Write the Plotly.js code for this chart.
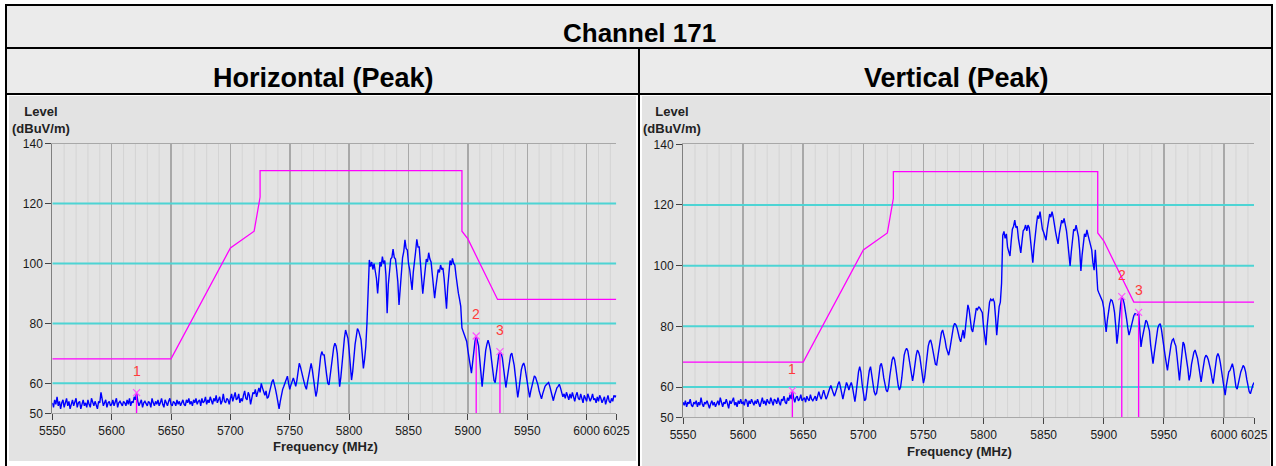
<!DOCTYPE html>
<html><head><meta charset="utf-8">
<script src="https://cdn.plot.ly/plotly-3.0.1.min.js"></script>
<style>html,body{margin:0;padding:0;background:#fff;overflow:hidden}#chart{width:1276px;height:466px}</style>
</head><body><div id="chart"></div>
<script>
// ---- data ----
const freqStart = 5550;   // MHz, first sample
const freqStep = 1;       // MHz between samples
// Horizontal (Peak) trace, 5550..6025 MHz
const levelH = [
53.5,52.0,54.5,53.0,55.5,52.5,54.0,51.5,53.5,54.5,
52.0,53.5,55.0,52.5,54.0,51.5,53.0,54.5,52.5,53.5,
55.0,52.0,53.5,54.0,51.5,53.0,54.5,52.5,53.5,52.0,
54.5,53.0,52.0,55.0,53.5,52.5,54.0,53.0,51.5,54.0,
53.5,57.0,54.0,52.5,53.5,54.5,52.0,53.5,54.0,52.5,
53.0,54.5,52.5,53.5,55.0,52.0,53.5,54.0,53.0,52.5,
54.0,53.5,52.5,54.5,53.0,55.0,52.5,54.0,53.5,55.5,
54.5,56.9,54.0,52.5,53.5,54.5,52.0,53.5,54.0,53.0,
52.5,54.0,53.5,52.0,55.0,53.5,52.5,54.0,53.0,54.5,
52.5,53.5,55.0,53.0,52.0,54.5,53.5,52.5,54.0,55.0,
53.0,52.5,54.0,53.5,52.5,54.5,53.0,54.0,52.5,53.5,
54.5,53.0,52.5,54.5,53.5,55.0,53.0,54.0,52.5,54.5,
53.5,55.0,53.0,54.0,54.5,52.5,55.0,53.5,54.0,55.5,
53.0,54.5,53.5,55.5,54.0,53.0,55.0,54.0,56.0,53.5,
54.5,55.5,53.0,54.0,56.5,54.0,53.5,55.0,54.5,53.0,
55.0,56.5,54.0,55.5,57.0,54.5,55.0,56.5,53.5,55.0,
54.0,56.0,57.5,55.0,54.5,57.0,56.0,53.0,55.5,57.0,
56.5,58.0,55.5,57.0,58.5,57.0,60.0,58.5,57.5,56.0,
57.5,55.0,55.5,57.5,59.5,60.5,61.3,60.0,58.0,56.0,
53.5,51.5,54.0,56.5,58.0,59.0,60.2,61.5,62.4,60.0,
58.0,59.5,60.5,61.8,60.5,59.0,61.0,64.0,66.7,65.5,
63.5,62.5,60.5,59.0,58.0,60.5,63.0,65.5,66.7,64.5,
62.0,59.0,55.6,57.5,62.0,66.5,69.0,70.6,69.5,69.5,
67.0,63.0,60.0,59.5,62.5,66.5,70.0,72.0,73.4,72.5,
70.0,65.0,58.9,62.0,67.0,71.5,75.0,77.8,76.5,75.0,
71.0,66.0,61.1,64.0,69.0,73.0,75.6,78.3,77.5,76.0,
74.5,70.0,65.0,68.0,72.2,80.0,92.0,101.2,99.0,100.5,
98.0,100.0,97.5,95.0,90.0,97.0,100.5,99.0,102.3,100.0,
101.0,96.0,83.4,93.0,98.0,101.5,102.0,104.8,102.0,101.5,
98.0,94.0,86.2,92.0,98.0,102.0,104.0,107.9,105.0,104.5,
100.0,98.0,94.5,91.2,97.0,102.0,104.0,108.1,105.5,105.5,
101.0,97.0,89.9,94.0,98.5,101.5,100.5,103.6,101.5,100.5,
96.5,93.0,88.4,92.0,96.0,98.0,97.0,99.5,98.0,98.5,
95.0,90.0,84.9,92.0,98.0,101.0,99.5,101.7,100.0,99.5,
96.0,92.0,90.1,88.0,85.7,78.5,77.3,76.0,75.6,74.0,
71.0,68.0,65.0,63.4,67.0,71.0,74.0,75.8,74.5,72.5,
68.0,63.0,58.9,63.0,67.5,71.0,73.0,74.4,73.0,71.0,
67.5,64.0,61.0,60.2,64.0,67.5,69.5,70.6,70.0,68.5,
66.0,62.0,58.6,61.5,65.0,68.0,69.5,70.1,68.5,66.0,
62.5,58.5,55.3,58.0,61.5,64.5,66.0,66.8,65.5,63.0,
60.0,57.0,55.3,57.5,59.5,61.5,62.5,62.0,61.0,59.5,
57.5,56.0,54.8,56.5,58.0,59.0,59.5,60.0,60.3,59.0,
57.0,55.0,54.2,56.0,57.5,58.5,59.0,59.7,58.5,57.0,
55.5,56.5,55.0,57.0,56.0,54.5,56.5,55.0,57.0,55.5,
54.0,56.0,57.0,55.0,54.5,56.5,55.0,53.5,56.0,55.0,
54.0,56.5,55.5,54.0,55.0,56.5,54.5,55.0,53.5,55.5,
54.0,56.0,55.0,53.5,54.5,55.5,53.0,54.5,56.0,54.0,
53.5,55.0,54.0,56.0,55.5,56.0
];
// Vertical (Peak) trace, 5550..6025 MHz
const levelV = [
55.0,54.0,55.5,53.5,55.0,54.5,56.0,54.0,53.5,55.0,
54.5,55.5,53.5,55.0,54.0,56.5,54.5,53.5,55.0,54.5,
55.5,54.0,53.0,54.5,55.5,54.0,55.0,53.5,54.5,55.5,
54.0,56.5,55.0,53.5,55.0,54.5,56.0,54.0,53.0,55.5,
54.5,55.5,56.5,54.0,55.0,53.5,55.5,54.5,56.0,54.5,
55.0,54.0,56.0,55.5,53.5,55.5,54.5,56.0,55.0,54.0,
55.5,54.5,56.0,55.0,53.5,55.0,56.5,54.5,55.5,54.0,
56.0,55.0,54.5,56.5,55.0,54.0,56.0,55.5,54.5,56.5,
55.0,54.0,56.0,55.5,57.0,55.0,54.5,56.5,55.5,57.5,
56.0,58.8,56.5,55.0,56.5,57.0,55.5,56.0,57.5,55.5,
56.0,56.5,55.0,57.0,56.0,55.5,57.5,56.0,55.5,56.5,
57.0,55.5,57.5,58.5,57.0,56.0,57.5,59.0,57.5,56.0,
57.0,58.5,59.5,60.5,59.0,58.0,57.0,58.0,59.5,61.0,
61.8,60.0,57.5,56.0,58.0,60.5,61.5,60.5,59.0,60.5,
61.5,60.0,57.5,55.2,58.0,62.0,65.0,66.7,65.0,61.0,
57.0,55.5,56.0,58.5,62.5,65.5,66.7,64.0,61.0,58.5,
57.5,57.9,60.5,64.5,67.0,67.8,66.0,63.0,60.5,59.0,
58.4,60.0,63.5,67.0,69.0,70.0,69.0,66.5,63.0,60.5,
59.0,60.0,63.0,67.0,70.5,72.0,72.8,72.0,69.5,66.0,
63.5,62.0,64.5,68.0,70.5,72.2,71.5,70.0,67.0,63.5,
61.3,63.0,67.0,71.0,73.5,75.0,75.5,74.0,71.5,69.0,
67.5,67.3,70.0,73.5,76.0,78.0,78.8,77.5,75.5,73.0,
71.5,70.5,72.5,75.5,78.0,80.0,81.0,80.5,79.5,77.5,
76.0,74.9,77.0,78.8,76.0,80.0,84.0,87.1,85.5,81.0,
79.0,78.2,81.0,84.5,86.0,85.5,86.5,86.0,85.0,84.5,
80.0,76.0,73.8,80.0,85.0,88.0,89.0,88.5,89.0,88.0,
83.0,77.1,82.0,86.5,88.0,94.1,110.0,111.3,109.0,110.5,
106.0,104.5,103.2,108.0,112.0,113.0,115.0,112.5,113.0,109.0,
107.0,104.2,108.0,111.5,112.0,113.4,111.5,113.4,112.5,108.0,
105.0,101.0,106.0,111.0,113.5,116.5,115.5,117.8,115.0,112.0,
111.0,109.5,108.4,112.0,114.5,117.0,116.0,117.8,116.0,113.0,
111.0,109.0,107.2,110.5,112.5,115.0,114.0,115.6,113.5,111.5,
108.0,104.0,99.9,104.5,108.5,112.0,111.5,113.4,111.5,109.5,
105.0,98.3,103.5,107.0,110.5,109.5,111.8,110.0,108.5,106.5,
105.2,101.0,98.5,105.2,98.0,92.0,91.0,90.0,89.5,88.2,
86.0,82.5,78.2,82.0,85.5,87.5,88.8,88.5,87.0,84.5,
80.0,74.3,78.0,83.0,87.0,89.8,89.0,87.5,85.5,82.5,
79.5,77.1,78.5,80.5,82.5,83.5,84.2,84.0,83.8,84.6,
80.0,73.2,76.0,78.5,80.5,82.0,81.5,80.0,78.5,74.0,
70.5,67.7,71.0,74.5,77.5,79.5,80.5,80.9,79.0,75.5,
72.5,70.5,68.0,65.5,68.5,71.5,74.0,75.5,75.9,74.5,
73.5,70.0,66.0,62.2,66.5,71.0,74.8,74.0,71.5,69.0,
66.0,62.2,64.0,67.5,70.0,71.5,72.2,71.0,69.5,67.0,
64.0,61.7,64.5,67.5,69.5,70.5,70.0,69.0,67.5,65.5,
63.0,61.1,64.0,67.5,70.0,71.1,70.0,68.0,65.5,62.0,
59.0,57.3,60.5,63.5,65.0,65.5,66.5,67.7,66.0,62.5,
60.0,59.3,61.5,63.5,65.0,66.0,67.1,66.5,65.0,62.5,
60.5,58.5,57.8,59.5,60.6,61.5
];
// limit line (same for both polarisations)
const limitFreq  = [5550, 5650, 5700, 5720, 5725, 5725, 5895, 5895, 5900, 5925, 6025];
const limitLevel = [68.2, 68.2, 105.2, 110.8, 122.2, 131.0, 131.0, 110.8, 108.2, 88.0, 88.0];
// markers
const markerIds = ['1', '2', '3'];
const markerFreqH  = [5621, 5907, 5927];
const markerLevelH = [56.9, 75.8, 70.6];
const markerFreqV  = [5641, 5915, 5929];
const markerLevelV = [58.8, 89.8, 84.6];
// axes
const xTicks = [5550, 5600, 5650, 5700, 5750, 5800, 5850, 5900, 5950, 6000, 6025];
const xMinorTicks = [5560, 5570, 5580, 5590, 5610, 5620, 5630, 5640, 5660, 5670, 5680, 5690,
  5710, 5720, 5730, 5740, 5760, 5770, 5780, 5790, 5810, 5820, 5830, 5840, 5860, 5870, 5880, 5890,
  5910, 5920, 5930, 5940, 5960, 5970, 5980, 5990, 6010, 6020];
const yTicks = [50, 60, 80, 100, 120, 140];
const cyanLevels = [60, 80, 100, 120];
const tableTitle = 'Channel 171';
const panelTitles = ['Horizontal (Peak)', 'Vertical (Peak)'];
const yTitle = 'Level<br>(dBuV/m)';
const xTitle = 'Frequency (MHz)';

// ---- layout helpers ----
const W = 1276, H = 466;
const px = v => v / W;
const py = v => 1 - v / H;
const FONT = 'Arial, "Liberation Sans", sans-serif';
const X_RANGE = [5550, 6025], Y_RANGE = [50, 140];

const panels = [
  {levels: levelH, mf: markerFreqH, ml: markerLevelH, xa: 'x', ya: 'y',
   dom: {x: [52.3, 616.3], y: [143.7, 413.3]}, yTitlePos: [41, 120], xTitlePos: [325, 446.7]},
  {levels: levelV, mf: markerFreqV, ml: markerLevelV, xa: 'x2', ya: 'y2',
   dom: {x: [683, 1254], y: [144.3, 417.4]}, yTitlePos: [672, 120], xTitlePos: [959.5, 451.7]}
];

const traces = [];
const shapes = [];
const annotations = [];

panels.forEach(p => {
  // minor vertical grid (every 10 MHz)
  const gx = [], gy = [];
  xMinorTicks.forEach(f => { gx.push(f, f, null); gy.push(Y_RANGE[0], Y_RANGE[1], null); });
  traces.push({type: 'scatter', mode: 'lines', x: gx, y: gy, xaxis: p.xa, yaxis: p.ya,
    line: {color: '#d4d4d4', width: 1}, hoverinfo: 'skip'});
  // cyan reference lines
  const cx = [], cy = [];
  cyanLevels.forEach(v => { cx.push(X_RANGE[0], X_RANGE[1], null); cy.push(v, v, null); });
  traces.push({type: 'scatter', mode: 'lines', x: cx, y: cy, xaxis: p.xa, yaxis: p.ya,
    line: {color: '#4dd4d4', width: 2}, hoverinfo: 'skip'});
  traces.push({type: 'scatter', mode: 'lines', x0: freqStart, dx: freqStep, y: p.levels,
    xaxis: p.xa, yaxis: p.ya, line: {color: '#0000ff', width: 1.4}, hoverinfo: 'skip'});
  traces.push({type: 'scatter', mode: 'lines', x: limitFreq, y: limitLevel,
    xaxis: p.xa, yaxis: p.ya, line: {color: '#ff00ff', width: 1.3}, hoverinfo: 'skip'});
  // marker drop lines
  const lx = [], ly = [];
  p.mf.forEach((f, i) => { lx.push(f, f, null); ly.push(p.ml[i], Y_RANGE[0], null); });
  traces.push({type: 'scatter', mode: 'lines', x: lx, y: ly, xaxis: p.xa, yaxis: p.ya,
    line: {color: '#ff00ff', width: 1.3}, hoverinfo: 'skip'});
  traces.push({type: 'scatter', mode: 'markers', x: p.mf, y: p.ml, xaxis: p.xa, yaxis: p.ya,
    marker: {symbol: 'x-thin', size: 7, line: {width: 1.2, color: '#ff55ff'}}, hoverinfo: 'skip'});
  p.mf.forEach((f, i) => annotations.push({xref: p.xa, yref: p.ya, x: f, y: p.ml[i], yshift: 22,
    text: markerIds[i], showarrow: false, xanchor: 'center', yanchor: 'middle',
    font: {family: FONT, size: 14, color: '#ff3b3b'}}));
  annotations.push({xref: 'paper', yref: 'paper', x: px(p.yTitlePos[0]), y: py(p.yTitlePos[1]),
    text: yTitle, showarrow: false, xanchor: 'center', yanchor: 'middle', align: 'center',
    font: {family: FONT, size: 13, color: '#222', weight: 'bold'}});
  annotations.push({xref: 'paper', yref: 'paper', x: px(p.xTitlePos[0]), y: py(p.xTitlePos[1]),
    text: xTitle, showarrow: false, xanchor: 'center', yanchor: 'middle',
    font: {family: FONT, size: 13, color: '#222', weight: 'bold'}});
});

// ---- table frame ----
const rect = (x0, y0, x1, y1, fill) => ({type: 'rect', xref: 'paper', yref: 'paper',
  x0: px(x0), x1: px(x1), y0: py(y1), y1: py(y0), fillcolor: fill, line: {width: 0}, layer: 'below'});
const hline = (x0, x1, y) => ({type: 'line', xref: 'paper', yref: 'paper', x0: px(x0), x1: px(x1),
  y0: py(y), y1: py(y), line: {color: '#000', width: 2}, layer: 'above'});
const vline = (x, y0, y1) => ({type: 'line', xref: 'paper', yref: 'paper', x0: px(x), x1: px(x),
  y0: py(y0), y1: py(y1), line: {color: '#000', width: 2}, layer: 'above'});
shapes.push(rect(7, 6, 1271, 47, '#ebebeb'));
shapes.push(rect(7, 49, 638, 93, '#ebebeb'));
shapes.push(rect(640, 49, 1271, 93, '#ebebeb'));
shapes.push(rect(9, 96, 636, 461, '#e3e3e3'));
shapes.push(rect(642, 96, 1270, 466, '#e3e3e3'));
shapes.push(hline(5, 1273, 5));
shapes.push(hline(5, 1273, 48));
shapes.push(hline(5, 1273, 94));
shapes.push(vline(6, 4, 466));
shapes.push(vline(1272, 4, 466));
shapes.push(vline(639, 48, 466));

annotations.push({xref: 'paper', yref: 'paper', x: px(640), y: py(33), text: tableTitle,
  showarrow: false, xanchor: 'center', yanchor: 'middle',
  font: {family: FONT, size: 26, color: '#000', weight: 'bold'}});
annotations.push({xref: 'paper', yref: 'paper', x: px(323), y: py(78), text: panelTitles[0],
  showarrow: false, xanchor: 'center', yanchor: 'middle',
  font: {family: FONT, size: 27, color: '#000', weight: 'bold'}});
annotations.push({xref: 'paper', yref: 'paper', x: px(956), y: py(78), text: panelTitles[1],
  showarrow: false, xanchor: 'center', yanchor: 'middle',
  font: {family: FONT, size: 27, color: '#000', weight: 'bold'}});

function xAxis(p) {
  return {domain: [px(p.dom.x[0]), px(p.dom.x[1])], anchor: p.ya, range: X_RANGE,
    tickmode: 'array', tickvals: xTicks, ticktext: xTicks.map(String),
    ticks: 'outside', ticklen: 6, tickwidth: 1, tickcolor: '#444',
    tickfont: {family: FONT, size: 12, color: '#1a1a1a'},
    showgrid: true, gridcolor: '#a8a8a8', gridwidth: 1.5,
    showline: true, mirror: true, linecolor: '#a8a8a8', linewidth: 1, zeroline: false, fixedrange: true};
}
function yAxis(p) {
  return {domain: [py(p.dom.y[1]), py(p.dom.y[0])], anchor: p.xa, range: Y_RANGE,
    tickmode: 'array', tickvals: yTicks, ticktext: yTicks.map(String),
    ticks: 'outside', ticklen: 6, tickwidth: 1, tickcolor: '#444',
    tickfont: {family: FONT, size: 12, color: '#1a1a1a'},
    showgrid: false, showline: true, linecolor: '#808080', linewidth: 1, zeroline: false, fixedrange: true};
}

const layout = {
  width: W, height: H, margin: {l: 0, r: 0, t: 0, b: 0},
  paper_bgcolor: '#ffffff', plot_bgcolor: '#ffffff', showlegend: false,
  xaxis: xAxis(panels[0]), yaxis: yAxis(panels[0]),
  xaxis2: xAxis(panels[1]), yaxis2: yAxis(panels[1]),
  shapes, annotations
};
Plotly.newPlot('chart', traces, layout, {displayModeBar: false, staticPlot: true});
</script>
</body></html>
